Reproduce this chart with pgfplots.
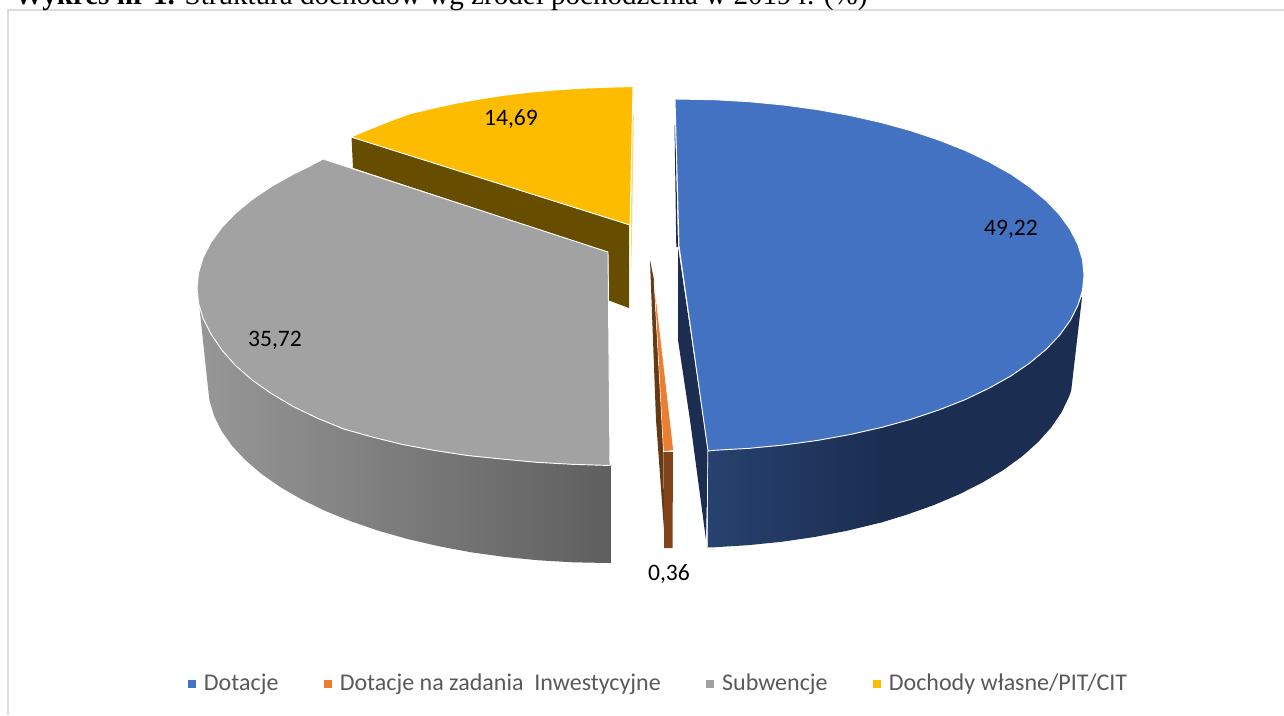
\documentclass[border=0pt]{standalone}
\usepackage{pgfplots}
\pgfplotsset{compat=1.18}
\usepackage{fontspec}
\setmainfont{Carlito}
\newfontfamily\titlefont{Liberation Serif}
\definecolor{cblue}{HTML}{4472C2}
\definecolor{cbluedk}{HTML}{1B2E52}
\definecolor{cbluemd}{HTML}{27426F}
\definecolor{corange}{HTML}{ED7D31}
\definecolor{corangedk}{HTML}{80431A}
\definecolor{corangedd}{HTML}{663A14}
\definecolor{cgrey}{HTML}{A2A2A2}
\definecolor{cgreyl}{HTML}{979797}
\definecolor{cgreyr}{HTML}{5F5F5F}
\definecolor{cyellow}{HTML}{FDBC00}
\definecolor{cyellowdk}{HTML}{664D00}
\definecolor{cframe}{HTML}{DDDDDD}
\definecolor{clegend}{HTML}{595959}
\begin{document}
\begin{tikzpicture}
\path[use as bounding box] (0,0) rectangle (963pt,536.25pt);
\begin{axis}[
  at={(0,0)}, anchor=south west,
  scale only axis, width=963pt, height=536.25pt,
  xmin=0, xmax=1284, ymin=0, ymax=715, y dir=reverse,
  hide axis, clip=true,
  legend columns=4,
  legend style={at={(0.1466,0.0448)}, anchor=west, draw=none, fill=none,
    font=\fontsize{18}{20}\selectfont\color{clegend},
    inner sep=0pt, outer sep=0pt,
    nodes={inner sep=0pt, outer sep=0pt, anchor=base west},
    /tikz/every even column/.append style={column sep=34.2pt},
    /tikz/every odd column/.append style={column sep=5.8pt}},
  legend cell align=left,
  legend image code/.code={\path[#1] (0pt,1.5pt) rectangle (6pt,7.5pt);},
]
% frame
\addplot[forget plot, draw=cframe, line width=1pt] coordinates {(1284,10)(8,10)(8,715)};
% yellow: side, thin rim, top
\addplot[forget plot, draw=none, fill=cyellowdk] coordinates {(351.5,137)(353,168)(608,252)(609,300.5)(629,308)(629,225)} -- cycle;
\addplot[forget plot, draw=none, fill=cyellow!55!white] coordinates {(632.5,115)(633.8,115)(632.2,225)(631.2,270)(630.8,225)} -- cycle;
\addplot[forget plot, draw=white, line width=0.7pt, fill=cyellow] coordinates {(633,86.5)(605,87.3)(580,88.3)(555,90)(530,92.2)(505,95.1)(480,99)(455,103.4)(430,109)(410,113.7)(390,121)(370,129)(351,137)(630,225)} -- cycle;
% grey: side, top
\addplot[forget plot, draw=none, left color=cgreyl, right color=cgreyr] coordinates {(199.5,308)(203.2,318.7)(211,334)(221.8,350)(235.5,365.5)(252.1,380)(271.3,393.5)(293.2,406.5)(317.4,418.2)(343.8,429)(372.3,437)(402.5,444.5)(434.3,450.4)(467.4,455.5)(501.6,459)(536.6,462.3)(572.2,464.3)(608,465)(611,465)(611,563)(608,563)(573.1,562.3)(538.6,560.3)(504.5,556.9)(471.2,552.3)(439,546.3)(408,539.1)(378.6,530.8)(350.9,521.3)(325.2,510.9)(301.6,499.4)(280.3,487.1)(261.6,474)(245.5,460.2)(232.1,445.9)(221.6,431.1)(214.1,415.9)(209.5,400.5)(209,397)} -- cycle;
\addplot[forget plot, draw=white, line width=0.4pt] coordinates {(610.8,466)(610.8,563)};
\addplot[forget plot, draw=white, line width=0.7pt, fill=cgrey] coordinates {(323,159)(307.5,167.3)(293.2,174.2)(271.3,186.5)(252.1,199.5)(235.5,213.2)(221.8,227.5)(211,242.2)(203.2,257.3)(198.6,272.6)(197,288)(198.6,303.4)(203.2,318.7)(211,334)(221.8,350)(235.5,365.5)(252.1,380)(271.3,393.5)(293.2,406.5)(317.4,418.2)(343.8,429)(372.3,437)(402.5,444.5)(434.3,450.4)(467.4,455.5)(501.6,459)(536.6,462.3)(572.2,464.3)(610,465.5)(608,252)} -- cycle;
% orange: inner side, front side, top
\addplot[forget plot, draw=none, fill=corangedd] coordinates {(650,260)(654,280)(663.5,451)(664,530)(656,420)} -- cycle;
\addplot[forget plot, draw=none, fill=corangedk] coordinates {(664,452)(673,452)(672.5,548)(664,548)} -- cycle;
\addplot[forget plot, draw=white, line width=0.4pt, fill=corange] coordinates {(654,280)(663.5,451.5)(673.5,450.5)} -- cycle;
% blue: inner side, front side, top
\addplot[forget plot, draw=none, fill=cbluedk] coordinates {(674.5,125)(675.2,125)(678,247)(676.3,247)} -- cycle;
\addplot[forget plot, draw=none, fill=cbluedk] coordinates {(678,247)(678,340)(690,420)(706,540)(708,451)} -- cycle;
\addplot[forget plot, draw=none, left color=cbluemd, right color=cbluedk] coordinates {(708,451)(714.3,450.3)(749.3,448.3)(783.8,445)(817.5,440.4)(850.2,434.5)(881.5,427.4)(881.5,522.5)(877,523.5)(846.4,530.9)(814.4,537)(781.5,541.8)(747.7,545.2)(713.5,547.3)(707.5,547.5)} -- cycle;
\addplot[forget plot, draw=none, fill=cbluedk] coordinates {(881,427.4)(911.3,419.2)(939.3,409.8)(965.4,399.5)(989.2,388.1)(1010.8,376)(1029.7,363)(1046.1,349.4)(1059.6,335.2)(1070.2,320.5)(1077.8,305.6)(1082,296)(1081.7,300)(1071.2,390.5)(1069,396.8)(1061.5,412.4)(1051.1,427.6)(1037.9,442.3)(1021.9,456.5)(1003.4,470)(982.3,482.6)(959,494.4)(933.5,505.2)(906.1,514.9)(881,522.6)} -- cycle;
\addplot[forget plot, draw=white, line width=0.5pt] coordinates {(707.8,451)(707,547)};
\addplot[forget plot, draw=white, line width=0.7pt, fill=cblue] coordinates {(675,99)(714.3,99.7)(749.3,101.7)(783.8,105)(817.5,109.6)(850.2,115.5)(881.5,122.6)(911.3,130.8)(939.3,140.2)(965.4,150.5)(989.2,161.9)(1010.8,174)(1029.7,187)(1046.1,200.6)(1059.6,214.8)(1070.2,229.5)(1077.8,244.4)(1082.5,259.7)(1084,275)(1082.5,290.3)(1077.8,305.6)(1070.2,320.5)(1059.6,335.2)(1046.1,349.4)(1029.7,363)(1010.8,376)(989.2,388.1)(965.4,399.5)(939.3,409.8)(911.3,419.2)(881.5,427.4)(850.2,434.5)(817.5,440.4)(783.8,445)(749.3,448.3)(714.3,450.3)(708,451)(679,246)} -- cycle;
% value labels
\node[font=\fontsize{17.7}{20}\selectfont, text=black] at (axis cs:1011,229) {49,22};
\node[font=\fontsize{17.7}{20}\selectfont, text=black] at (axis cs:275,340) {35,72};
\node[font=\fontsize{17.7}{20}\selectfont, text=black] at (axis cs:511,119) {14,69};
\node[font=\fontsize{17.7}{20}\selectfont, text=black] at (axis cs:669,574) {0,36};
% clipped heading
\node[anchor=base west, inner sep=0pt, font=\titlefont\fontsize{21.8}{24}\selectfont] at (axis cs:14,4) {\textbf{Wykres nr 1.} Struktura dochodów wg źródeł pochodzenia w 2019 r. (\%)};
% legend
\addlegendimage{fill=cblue, draw=none}
\addlegendentry{Dotacje}
\addlegendimage{fill=corange, draw=none}
\addlegendentry{Dotacje na zadania\ \ Inwestycyjne}
\addlegendimage{fill=cgrey, draw=none}
\addlegendentry{Subwencje}
\addlegendimage{fill=cyellow, draw=none}
\addlegendentry{Dochody własne/PIT/CIT}
\end{axis}
\end{tikzpicture}
\end{document}
